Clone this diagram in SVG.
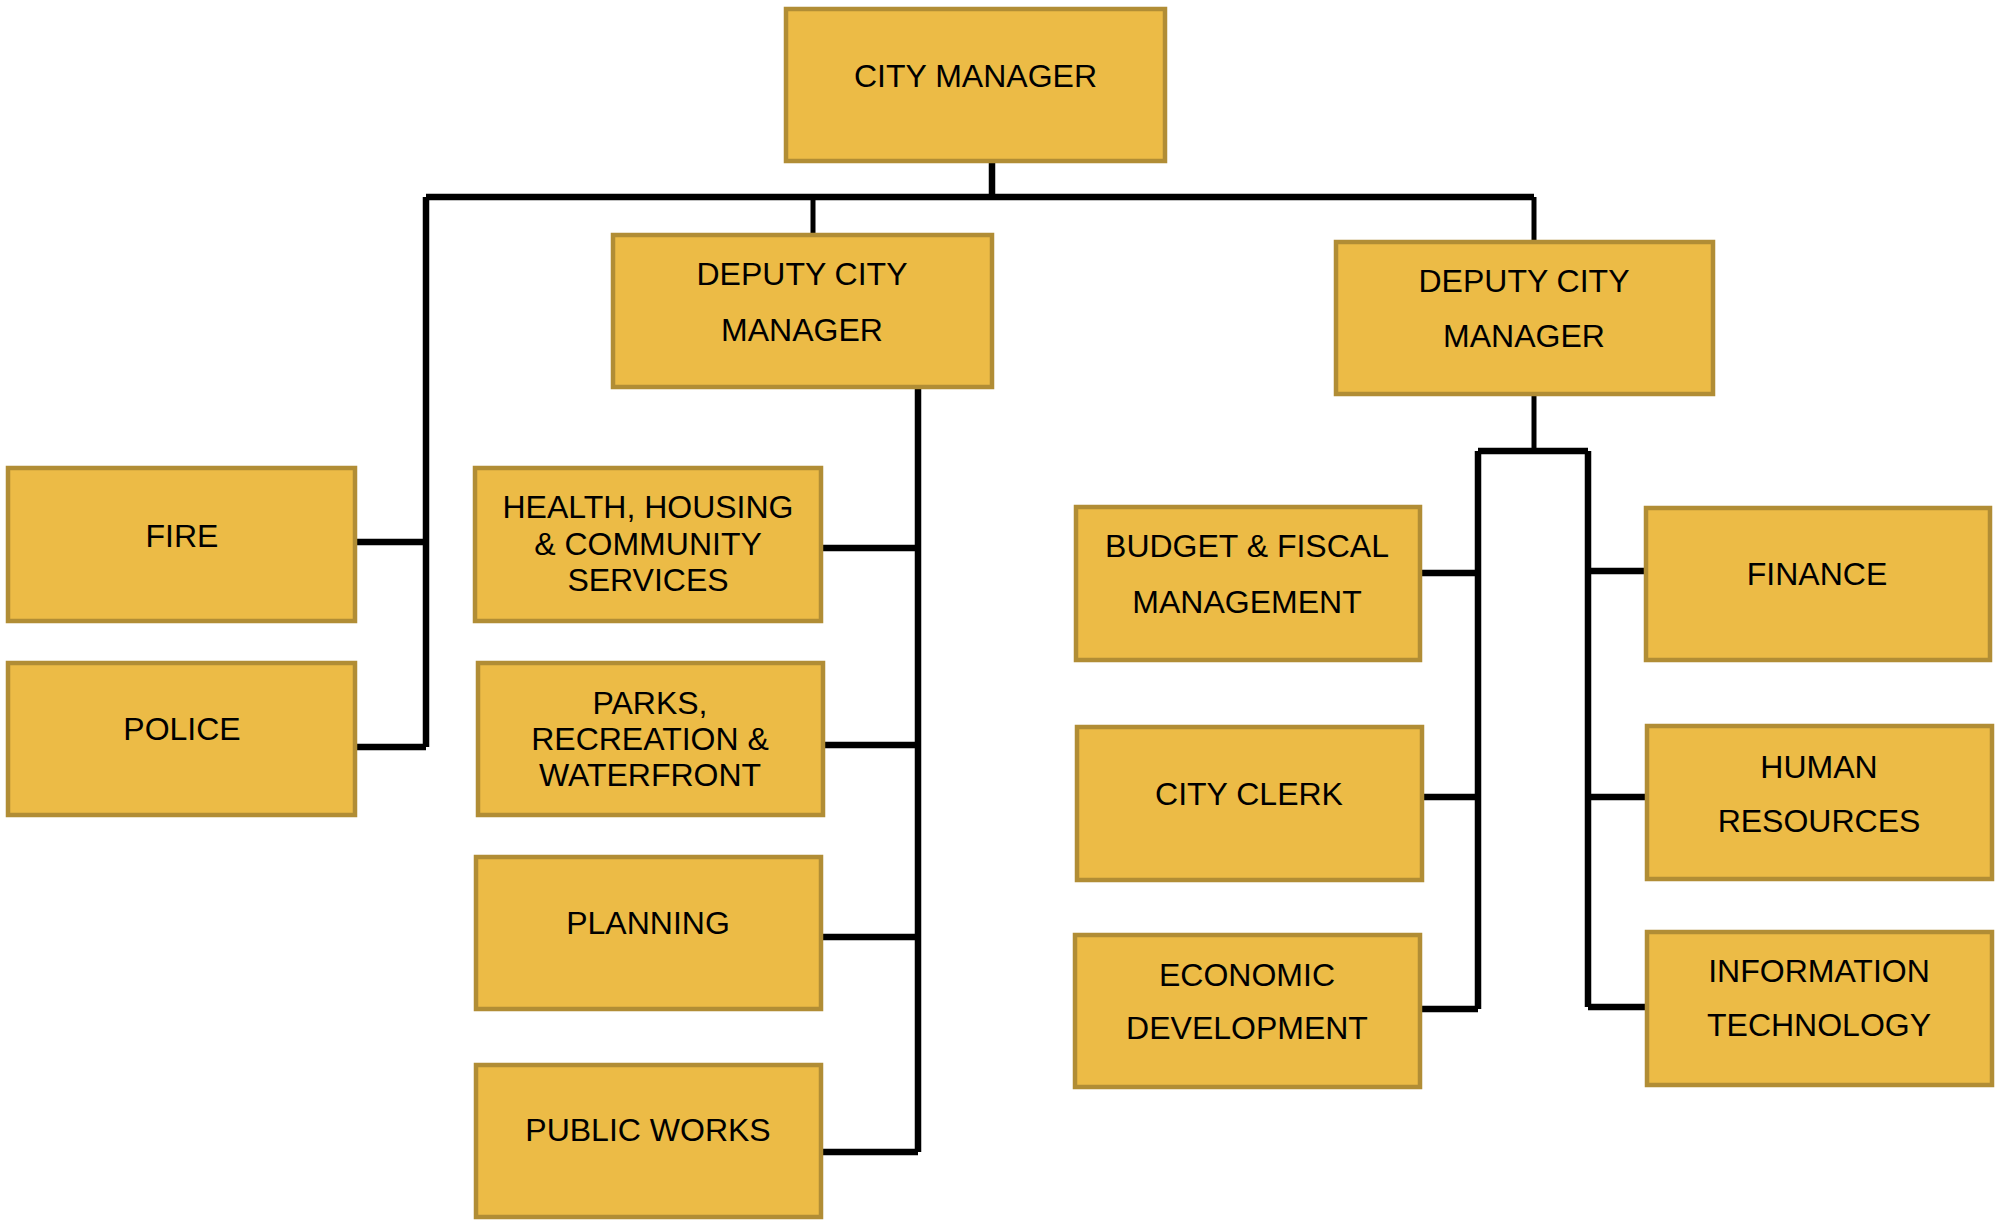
<svg xmlns="http://www.w3.org/2000/svg" width="2007" height="1225" viewBox="0 0 2007 1225">
<style>
.box{fill:#ECBB46;stroke:#B18D35;stroke-width:4.5}
.t{font-family:"Liberation Sans",Arial,sans-serif;font-size:32px;fill:#000;text-anchor:middle}
.c{fill:none;stroke:#000;stroke-width:6.5;stroke-linecap:butt;stroke-linejoin:miter}
.c2{fill:none;stroke:#000;stroke-width:5}
</style>
<rect width="2007" height="1225" fill="#fff"/>
<g id="connectors">
<path class="c" d="M992 163V197"/>
<path class="c" d="M426 197H1534"/>
<path class="c2" d="M813 197V233"/>
<path class="c2" d="M1534 197V240"/>
<path class="c" d="M426 197V747"/>
<path class="c" d="M357 542H426"/>
<path class="c" d="M356 747H426"/>
<path class="c" d="M918 389V1152"/>
<path class="c" d="M823 548H918"/>
<path class="c" d="M825 745H918"/>
<path class="c" d="M823 937H918"/>
<path class="c" d="M823 1152H918"/>
<path class="c2" d="M1534 396V451"/>
<path class="c" d="M1478 451H1588"/>
<path class="c" d="M1478 451V1009"/>
<path class="c" d="M1588 451V1007"/>
<path class="c" d="M1421 573H1478"/>
<path class="c" d="M1424 797H1478"/>
<path class="c" d="M1422 1009H1478"/>
<path class="c" d="M1588 571H1644"/>
<path class="c" d="M1588 797H1645"/>
<path class="c" d="M1588 1007H1645"/>
</g>
<g id="city-manager"><rect class="box" x="786" y="9" width="379" height="152"/><text class="t" x="975.5" y="87">CITY MANAGER</text></g>
<g id="deputy-1"><rect class="box" x="613" y="235" width="379" height="152"/><text class="t" x="802" y="285">DEPUTY CITY</text><text class="t" x="802" y="341">MANAGER</text></g>
<g id="deputy-2"><rect class="box" x="1336" y="242" width="377" height="152"/><text class="t" x="1524" y="292">DEPUTY CITY</text><text class="t" x="1524" y="347">MANAGER</text></g>
<g id="fire"><rect class="box" x="8" y="468" width="347" height="153"/><text class="t" x="182" y="547">FIRE</text></g>
<g id="police"><rect class="box" x="8" y="663" width="347" height="152"/><text class="t" x="182" y="740">POLICE</text></g>
<g id="health"><rect class="box" x="475" y="468" width="346" height="153"/><text class="t" x="648" y="518">HEALTH, HOUSING</text><text class="t" x="648" y="555">&amp; COMMUNITY</text><text class="t" x="648" y="591">SERVICES</text></g>
<g id="parks"><rect class="box" x="478" y="663" width="345" height="152"/><text class="t" x="650" y="714">PARKS,</text><text class="t" x="650" y="750">RECREATION &amp;</text><text class="t" x="650" y="786">WATERFRONT</text></g>
<g id="planning"><rect class="box" x="476" y="857" width="345" height="152"/><text class="t" x="648" y="934">PLANNING</text></g>
<g id="public-works"><rect class="box" x="476" y="1065" width="345" height="152"/><text class="t" x="648" y="1141">PUBLIC WORKS</text></g>
<g id="budget"><rect class="box" x="1076" y="507" width="344" height="153"/><text class="t" x="1247" y="557">BUDGET &amp; FISCAL</text><text class="t" x="1247" y="613">MANAGEMENT</text></g>
<g id="city-clerk"><rect class="box" x="1077" y="727" width="345" height="153"/><text class="t" x="1249" y="805">CITY CLERK</text></g>
<g id="economic"><rect class="box" x="1075" y="935" width="345" height="152"/><text class="t" x="1247" y="986">ECONOMIC</text><text class="t" x="1247" y="1039">DEVELOPMENT</text></g>
<g id="finance"><rect class="box" x="1646" y="508" width="344" height="152"/><text class="t" x="1817" y="585">FINANCE</text></g>
<g id="human-resources"><rect class="box" x="1647" y="726" width="345" height="153"/><text class="t" x="1819" y="778">HUMAN</text><text class="t" x="1819" y="832">RESOURCES</text></g>
<g id="information-technology"><rect class="box" x="1647" y="932" width="345" height="153"/><text class="t" x="1819" y="982">INFORMATION</text><text class="t" x="1819" y="1036">TECHNOLOGY</text></g>
</svg>
